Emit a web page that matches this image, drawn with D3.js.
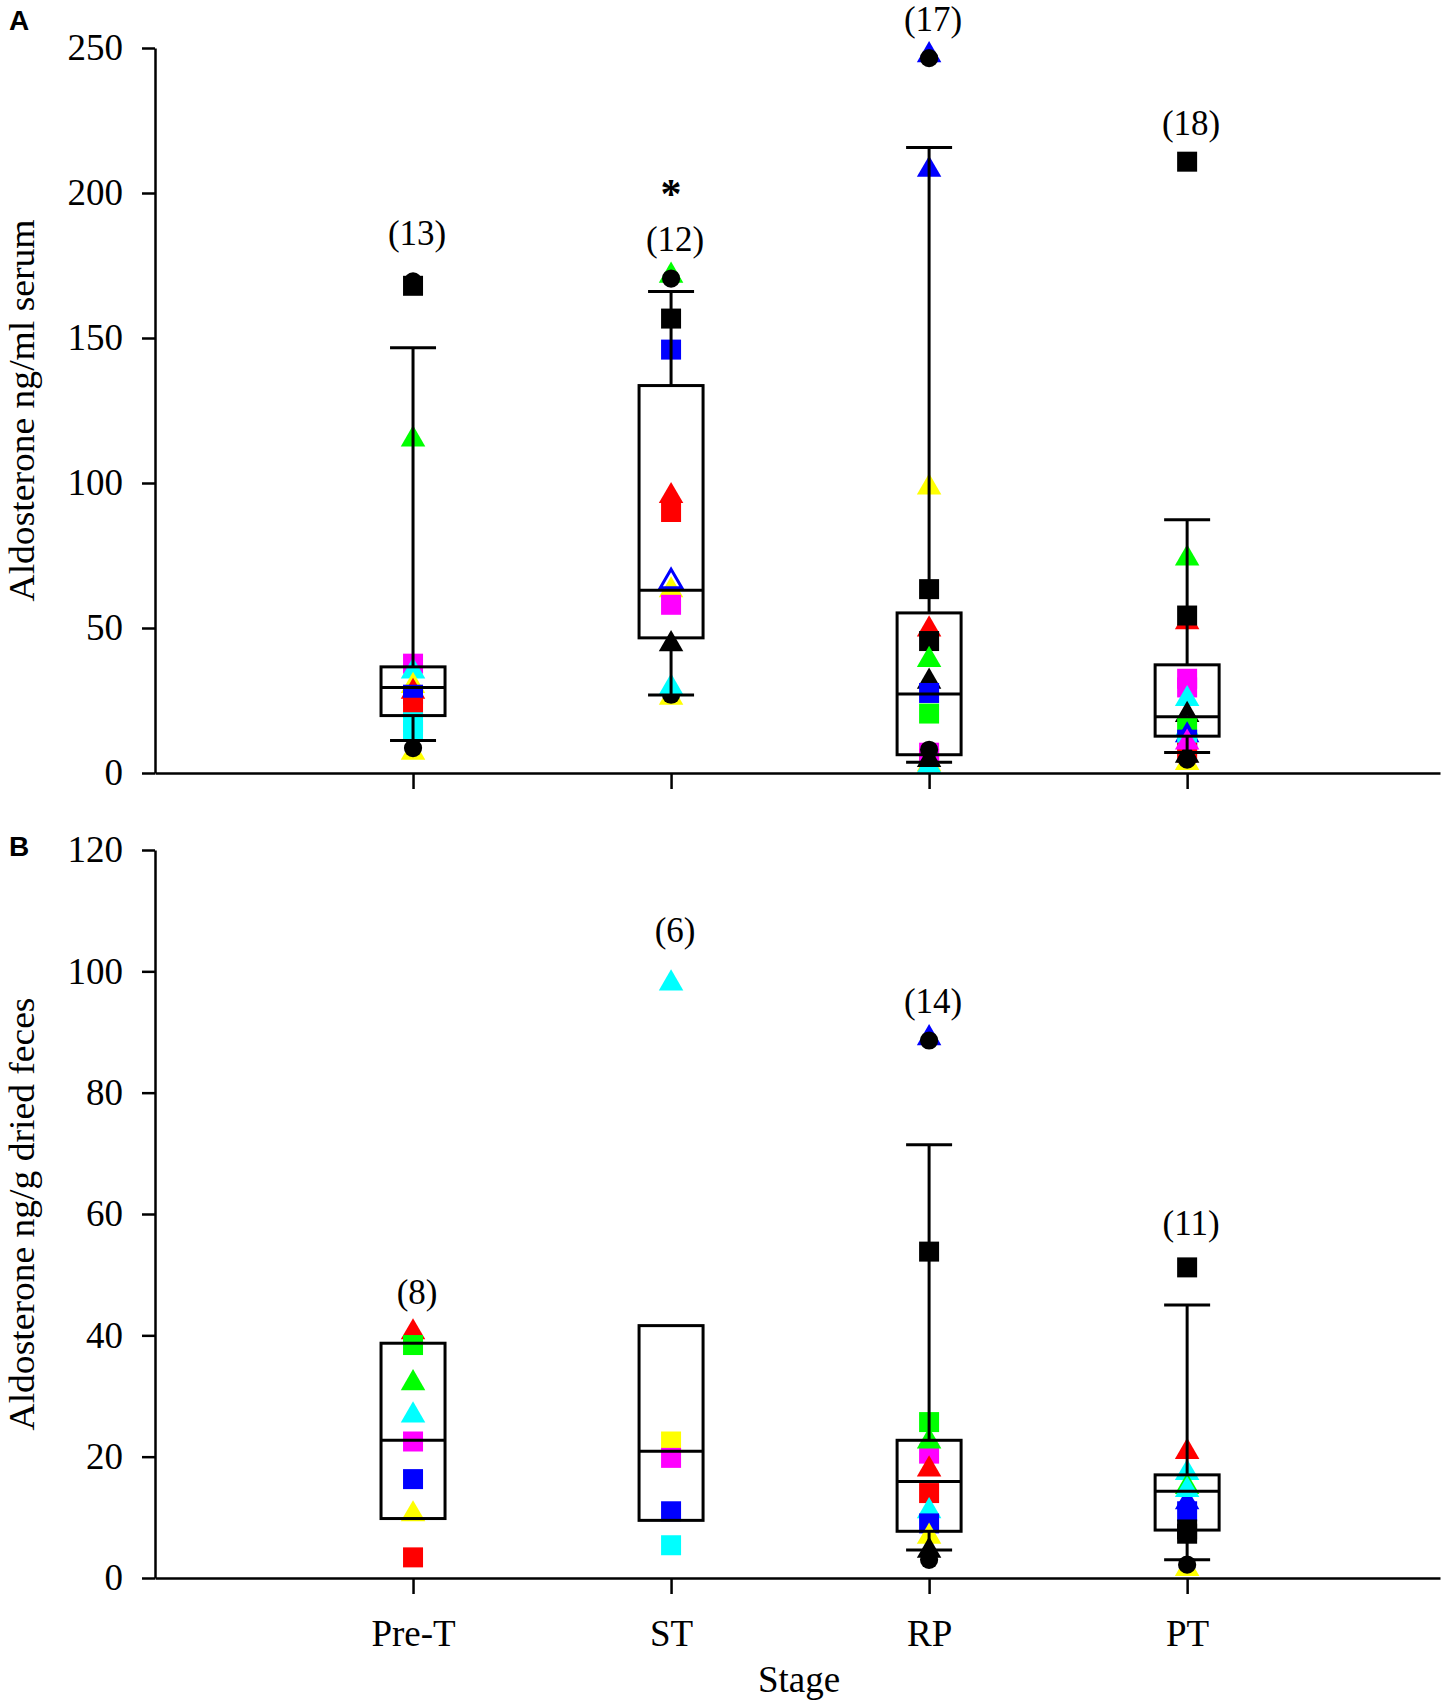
<!DOCTYPE html>
<html lang="en">
<head>
    <meta charset="UTF-8">
    <title>Aldosterone by Stage</title>
    <script src="https://d3js.org/d3.v7.min.js"></script>
    <style>
        body {
            margin: 0;
            padding: 0;
            background-color: #fff;
        }
        svg {
            display: block;
        }
        text {
            font-family: "Liberation Serif", "Times New Roman", serif;
        }
    </style>
</head>
<body>
    <svg id="chart" width="1450" height="1703"></svg>
    <script>
        const stages = ["Pre-T", "ST", "RP", "PT"];
        const serumTicks = [0, 50, 100, 150, 200, 250];
        const fecesTicks = [0, 20, 40, 60, 80, 100, 120];

        // [lower cap, q1, median, q3, upper cap] per stage
        const serumBoxes = [
            [11.2, 19.8, 29.5, 36.6, 146.6],
            [26.9, 46.6, 63, 133.6, 166],
            [3.7, 6.3, 27.2, 55.2, 215.7],
            [7.1, 12.7, 19.4, 37.3, 87.3]
        ];
        const fecesBoxes = [
            [null, 9.8, 22.7, 38.7, null],
            [null, 9.5, 20.9, 41.6, null],
            [4.6, 7.7, 15.9, 22.7, 71.4],
            [3, 7.9, 14.3, 17, 45]
        ];

        const serumN = ["(13)", "(12)", "(17)", "(18)"];
        const serumNAt = [182, 180, 256, 220];
        const fecesN = ["(8)", "(6)", "(14)", "(11)"];
        const fecesNAt = [45.2, 104.8, 93.2, 56.6];

        // individual animals: [stage, value, marker, colour]
        const serumPoints = [
            [0, 168, "sq", "black"], [0, 169.5, "ci", "black"], [0, 115, "tr", "lime"],
            [0, 37.7, "sq", "magenta"], [0, 35, "tr", "cyan"], [0, 30, "tr", "yellow"],
            [0, 28, "tr", "red"], [0, 27, "sq", "blue"], [0, 22.5, "sq", "red"],
            [0, 17.5, "sq", "cyan"], [0, 14.5, "sq", "cyan"], [0, 7, "tr", "yellow"],
            [0, 8.6, "ci", "black"],
            [1, 171.5, "tr", "lime"], [1, 170.5, "ci", "black"], [1, 156.7, "sq", "black"],
            [1, 146, "sq", "blue"], [1, 95.5, "tr", "red"], [1, 90, "sq", "red"],
            [1, 63, "tr", "yellow"], [1, 66, "to", "blue"], [1, 58, "sq", "magenta"],
            [1, 44.4, "tr", "black"], [1, 26, "tr", "yellow"], [1, 27, "ci", "black"],
            [1, 29.5, "tr", "cyan"],
            [2, 247.5, "tr", "blue"], [2, 246.5, "ci", "black"], [2, 208, "tr", "blue"],
            [2, 98.5, "tr", "yellow"], [2, 63.4, "sq", "black"], [2, 49.5, "tr", "red"],
            [2, 45.5, "sq", "black"], [2, 39, "tr", "lime"], [2, 31.5, "tr", "black"],
            [2, 27.6, "sq", "blue"], [2, 20.5, "sq", "lime"], [2, 5, "sq", "red"],
            [2, 7, "sq", "magenta"], [2, 8, "ci", "black"], [2, 3, "tr", "yellow"],
            [2, 2.5, "tr", "cyan"], [2, 4.5, "tr", "black"],
            [3, 210.8, "sq", "black"], [3, 74, "tr", "lime"], [3, 52, "tr", "red"],
            [3, 54.3, "sq", "black"], [3, 32.5, "sq", "magenta"], [3, 29.5, "sq", "magenta"],
            [3, 25.5, "tr", "cyan"], [3, 20, "tr", "black"], [3, 15, "tr", "cyan"],
            [3, 16, "sq", "lime"], [3, 13, "tr", "blue"], [3, 11.5, "sq", "blue"],
            [3, 9.5, "sq", "cyan"], [3, 7, "sq", "red"], [3, 3.5, "tr", "yellow"],
            [3, 4.6, "ci", "black"], [3, 6, "tr", "black"], [3, 10.5, "tr", "magenta"]
        ];
        const fecesPoints = [
            [0, 40.5, "tr", "red"], [0, 38.4, "sq", "lime"], [0, 32.1, "tr", "lime"],
            [0, 26.8, "tr", "cyan"], [0, 22.5, "sq", "magenta"], [0, 16.3, "sq", "blue"],
            [0, 10.5, "tr", "yellow"], [0, 3.4, "sq", "red"],
            [1, 98, "tr", "cyan"], [1, 22.5, "sq", "yellow"], [1, 19.8, "sq", "magenta"],
            [1, 11, "sq", "blue"], [1, 5.4, "sq", "cyan"],
            [2, 89, "tr", "blue"], [2, 88.6, "ci", "black"], [2, 53.8, "sq", "black"],
            [2, 25.7, "sq", "lime"], [2, 20.5, "sq", "magenta"], [2, 22.5, "tr", "lime"],
            [2, 17.9, "tr", "red"], [2, 14, "sq", "red"], [2, 11, "tr", "cyan"],
            [2, 9, "sq", "blue"], [2, 6.8, "tr", "yellow"], [2, 4.5, "tr", "black"],
            [2, 3, "ci", "black"],
            [3, 51.2, "sq", "black"], [3, 20.8, "tr", "red"], [3, 17.3, "tr", "cyan"],
            [3, 15, "tr", "lime"], [3, 12.5, "tr", "blue"], [3, 11, "sq", "blue"],
            [3, 7.3, "sq", "black"], [3, 8, "sq", "black"], [3, 1.5, "tr", "yellow"],
            [3, 2.2, "ci", "black"], [3, 14.5, "tr", "cyan"]
        ];

        const colours = {
            black: "#000000", red: "#ff0000", lime: "#00ff00", yellow: "#ffff00",
            blue: "#0000ff", cyan: "#00ffff", magenta: "#ff00ff"
        };
        const symbols = {
            sq: d3.symbol().type(d3.symbolSquare).size(400),
            tr: d3.symbol().type(d3.symbolTriangle).size(260),
            to: d3.symbol().type(d3.symbolTriangle).size(200),
            ci: d3.symbol().type(d3.symbolCircle).size(260)
        };

        const svg = d3.select("#chart");
        const x = d3.scaleLinear().domain([0, 4.98]).range([155, 1440]);

        function drawPanel(opts) {
            const { y, ticks, boxes, points, nLabels, nAt, title, titleLen, letter, letterY, showLabels } = opts;
            const g = svg.append("g");
            const y0 = y.range()[0];

            // points first, box lines go over them
            g.selectAll("path.pt")
                .data(points)
                .join("path")
                .attr("class", "pt")
                .attr("transform", d => `translate(${x(d[0] + 1)},${y(d[1])})`)
                .attr("d", d => symbols[d[2]]())
                .attr("fill", d => d[2] === "to" ? "none" : colours[d[3]])
                .attr("stroke", d => d[2] === "to" ? colours[d[3]] : "none")
                .attr("stroke-width", 3);

            const bw = 64, cw = 46;
            boxes.forEach((b, i) => {
                const cx = x(i + 1);
                const [lo, q1, med, q3, hi] = b;
                if (hi !== null) {
                    g.append("line").attr("x1", cx).attr("x2", cx)
                        .attr("y1", y(q3)).attr("y2", y(hi));
                    g.append("line").attr("x1", cx - cw / 2).attr("x2", cx + cw / 2)
                        .attr("y1", y(hi)).attr("y2", y(hi));
                }
                if (lo !== null) {
                    g.append("line").attr("x1", cx).attr("x2", cx)
                        .attr("y1", y(q1)).attr("y2", y(lo));
                    g.append("line").attr("x1", cx - cw / 2).attr("x2", cx + cw / 2)
                        .attr("y1", y(lo)).attr("y2", y(lo));
                }
                g.append("rect")
                    .attr("x", cx - bw / 2).attr("width", bw)
                    .attr("y", y(q3)).attr("height", y(q1) - y(q3))
                    .attr("fill", "none");
                g.append("line").attr("x1", cx - bw / 2).attr("x2", cx + bw / 2)
                    .attr("y1", y(med)).attr("y2", y(med));
            });
            g.selectAll("line, rect").attr("stroke", "#000").attr("stroke-width", 3);

            g.selectAll("text.n")
                .data(nLabels)
                .join("text")
                .attr("class", "n")
                .attr("x", (d, i) => x(i + 1) + 4)
                .attr("y", (d, i) => y(nAt[i]))
                .attr("text-anchor", "middle")
                .style("font-size", "35px")
                .text(d => d);

            // axes
            const yAxis = g.append("g")
                .attr("transform", `translate(${x(0)},0)`)
                .call(d3.axisLeft(y).tickValues(ticks).tickSize(13).tickSizeOuter(0).tickPadding(19));
            const xAxis = g.append("g")
                .attr("transform", `translate(0,${y0})`)
                .call(d3.axisBottom(x).tickValues([1, 2, 3, 4]).tickSize(16).tickSizeOuter(0)
                    .tickPadding(26).tickFormat(d => showLabels ? stages[d - 1] : ""));
            [yAxis, xAxis].forEach(a => {
                a.selectAll("path, line").attr("stroke", "#000").attr("stroke-width", 2.5);
                a.selectAll("text")
                    .attr("fill", "#000")
                    .style("font-family", '"Liberation Serif", "Times New Roman", serif')
                    .style("font-size", "37px");
            });

            const ym = (y.range()[0] + y.range()[1]) / 2;
            g.append("text")
                .attr("transform", `translate(34,${ym}) rotate(-90)`)
                .attr("text-anchor", "middle")
                .attr("textLength", titleLen)
                .attr("lengthAdjust", "spacingAndGlyphs")
                .style("font-size", "35px")
                .text(title);

            g.append("text")
                .attr("x", 9)
                .attr("y", letterY)
                .style("font-family", "Arial, 'Liberation Sans', sans-serif")
                .style("font-weight", "bold")
                .style("font-size", "28px")
                .text(letter);
            return g;
        }

        const yA = d3.scaleLinear().domain([0, 250]).range([773, 48]);
        const yB = d3.scaleLinear().domain([0, 120]).range([1578, 850]);

        const gA = drawPanel({
            y: yA, ticks: serumTicks, boxes: serumBoxes, points: serumPoints,
            nLabels: serumN, nAt: serumNAt, title: "Aldosterone ng/ml serum", titleLen: 382,
            letter: "A", letterY: 30, showLabels: false
        });
        // significance mark above ST
        gA.append("text")
            .attr("x", x(2))
            .attr("y", yA(200) + 15)
            .attr("text-anchor", "middle")
            .style("font-size", "42px")
            .style("font-weight", "bold")
            .text("*");

        drawPanel({
            y: yB, ticks: fecesTicks, boxes: fecesBoxes, points: fecesPoints,
            nLabels: fecesN, nAt: fecesNAt, title: "Aldosterone ng/g dried feces", titleLen: 433,
            letter: "B", letterY: 856, showLabels: true
        });

        svg.append("text")
            .attr("x", 799)
            .attr("y", 1692)
            .attr("text-anchor", "middle")
            .style("font-size", "37px")
            .text("Stage");
    </script>
</body>
</html>
